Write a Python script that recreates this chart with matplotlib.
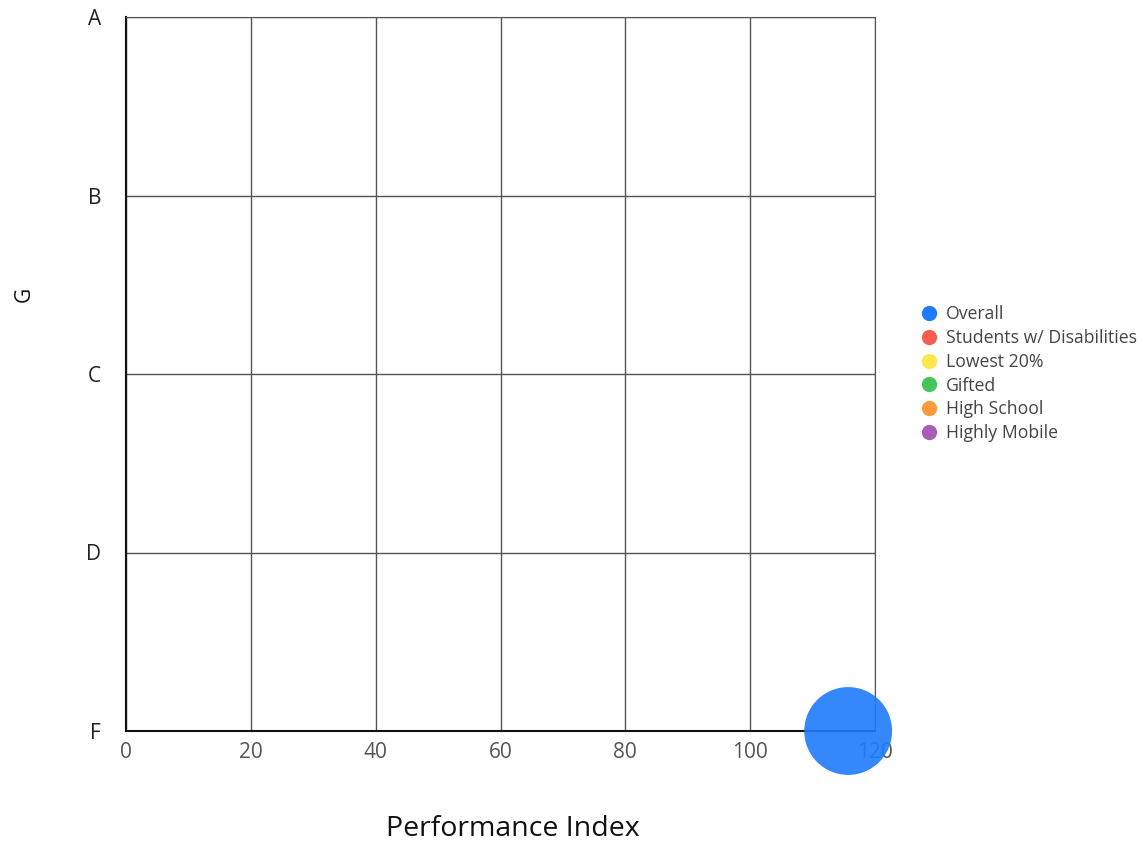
import matplotlib
matplotlib.use("Agg")
import matplotlib.pyplot as plt
from matplotlib.lines import Line2D

plt.rcParams['font.family'] = ['Open Sans', 'DejaVu Sans']

## groups and their colours
groups = ['Overall', 'Students w/ Disabilities', 'Lowest 20%', 'Gifted',
          'High School', 'Highly Mobile']
colors = ['#1f7bfb', '#f55d50', '#ffe64d', '#44c45a', '#ff9a3c', '#a85eb5']

## performance index and grade per group (only Overall is plotted)
perf = {'Overall': [115.7]}
grade = {'Overall': ['F']}

grades = ['F', 'D', 'C', 'B', 'A']
x_ticks = [0, 20, 40, 60, 80, 100, 120]

fig = plt.figure(figsize=(11.41, 8.42), dpi=100)
ax = fig.add_axes([126/1141, 1-731/842, 749/1141, 714/842])

for g, c in zip(groups, colors):
    if g not in perf:
        continue
    xs = perf[g]
    ys = [grades.index(v) for v in grade[g]]
    ax.scatter(xs, ys, s=4000, color=c, alpha=0.9, edgecolors='none',
               zorder=5, clip_on=False)

ax.set_xlim(0, 120)
ax.set_ylim(0, 4)
ax.set_xticks(x_ticks)
ax.set_yticks(range(len(grades)))
ax.set_yticklabels(grades)
ax.tick_params(axis='x', length=0, labelsize=15, labelcolor='#555555', pad=8)
ax.tick_params(axis='y', length=0, labelsize=15, labelcolor='#222222', pad=18)
ax.grid(True, color='#555555', linewidth=1)
ax.set_axisbelow(True)
for side in ['top', 'right']:
    ax.spines[side].set_color('#555555')
for side in ['left', 'bottom']:
    ax.spines[side].set_color('#111111')
    ax.spines[side].set_linewidth(1.5)

ax.set_xlabel('Performance Index', fontsize=20.5, color='#111111')
ax.xaxis.set_label_coords(0.517, -0.118)
ax.set_ylabel('G', fontsize=15, color='#111111')
ax.yaxis.set_label_coords(-0.122, 0.611)

handles = [Line2D([], [], marker='o', linestyle='none', markersize=11,
                  markerfacecolor=c, markeredgecolor='none') for c in colors]
fig.legend(handles, groups, loc='upper left',
           bbox_to_anchor=(913/1141, 1-298/842), frameon=False,
           fontsize=12.7, labelcolor='#444444', handletextpad=0.45,
           labelspacing=0.33, handlelength=1.0, borderaxespad=0)

plt.savefig("out.png")
